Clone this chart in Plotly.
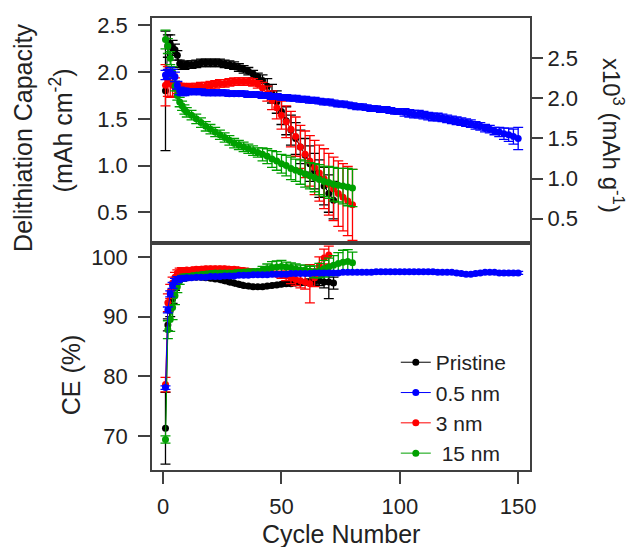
import plotly.graph_objects as go

# ---------------- data ----------------
# cycle numbers (every cycle up to 9, then every 2nd cycle)
pristine_cyc = list(range(1, 10)) + list(range(10, 73, 2))
nm05_cyc = list(range(1, 10)) + list(range(10, 151, 2))
nm3_cyc = list(range(1, 10)) + list(range(10, 81, 2))
nm3_ce_cyc = list(range(1, 10)) + list(range(10, 71, 2))
nm15_cyc = list(range(1, 10)) + list(range(10, 81, 2))

# delithiation capacity (mAh cm-2)
pristine_cap = [1.80, 2.28, 2.30, 2.26, 2.24, 2.18, 2.09, 2.07, 2.07,
                2.08, 2.08, 2.09, 2.10, 2.10, 2.10, 2.10, 2.10, 2.09, 2.08,
                2.07, 2.05, 2.03, 2.01, 1.98, 1.95, 1.91, 1.85, 1.77, 1.68,
                1.58, 1.48, 1.38, 1.29, 1.20, 1.11, 1.02, 0.94, 0.86, 0.78,
                0.70, 0.63]
pristine_cap_err = [0.64, 0.12, 0.10, 0.08, 0.06, 0.05, 0.04, 0.04, 0.04,
                    0.04, 0.04, 0.04, 0.04, 0.04, 0.04, 0.04, 0.04, 0.04, 0.04,
                    0.04, 0.04, 0.04, 0.04, 0.04, 0.04, 0.06, 0.08, 0.10, 0.12,
                    0.14, 0.15, 0.16, 0.17, 0.18, 0.18, 0.19, 0.19, 0.20, 0.20,
                    0.20, 0.20]

nm05_cap = [1.97, 1.98, 2.00, 1.98, 1.95, 1.86, 1.80, 1.79, 1.79,
            1.79, 1.79, 1.79, 1.79, 1.78, 1.78, 1.78, 1.78, 1.78, 1.77,
            1.77, 1.77, 1.77, 1.76, 1.76, 1.76, 1.75, 1.75, 1.74, 1.74,
            1.73, 1.73, 1.72, 1.72, 1.71, 1.71, 1.70, 1.70, 1.69, 1.68,
            1.68, 1.67, 1.66, 1.66, 1.65, 1.64, 1.63, 1.63, 1.62, 1.61,
            1.61, 1.60, 1.60, 1.59, 1.58, 1.58, 1.57, 1.56, 1.55, 1.55,
            1.54, 1.53, 1.52, 1.52, 1.51, 1.50, 1.49, 1.48, 1.47, 1.46,
            1.45, 1.43, 1.42, 1.40, 1.39, 1.37, 1.36, 1.34, 1.33, 1.31,
            1.29]
nm05_cap_err = [0.05, 0.05, 0.05, 0.05, 0.05, 0.04, 0.04, 0.04, 0.04] + \
    [0.03] * 46 + [0.04] * 20 + [0.05, 0.06, 0.07, 0.08, 0.12]

nm3_cap = [1.86, 1.90, 1.88, 1.86, 1.84, 1.83, 1.83, 1.83, 1.83,
           1.83, 1.84, 1.84, 1.85, 1.85, 1.86, 1.87, 1.88, 1.88, 1.89,
           1.90, 1.90, 1.90, 1.90, 1.89, 1.87, 1.83, 1.77, 1.70, 1.62,
           1.54, 1.47, 1.39, 1.31, 1.20, 1.12, 1.05, 0.98, 0.92, 0.86,
           0.80, 0.75, 0.70, 0.66, 0.62, 0.58]
nm3_cap_err = [0.22, 0.16, 0.15, 0.12, 0.10, 0.06, 0.05, 0.05, 0.04] + \
    [0.04] * 16 + [0.06, 0.08, 0.10, 0.12, 0.15, 0.17, 0.19, 0.21, 0.23, 0.25,
                   0.27, 0.29, 0.30, 0.32, 0.33, 0.34, 0.35, 0.36, 0.37, 0.38]

nm15_cap = [2.35, 2.28, 2.15, 2.00, 1.85, 1.75, 1.68, 1.64, 1.60,
            1.57, 1.54, 1.50, 1.46, 1.42, 1.39, 1.36, 1.33, 1.30, 1.27,
            1.24, 1.22, 1.20, 1.18, 1.16, 1.14, 1.12, 1.10, 1.07, 1.05,
            1.02, 1.00, 0.97, 0.95, 0.93, 0.91, 0.89, 0.87, 0.85, 0.83,
            0.82, 0.80, 0.79, 0.78, 0.77, 0.76]
nm15_cap_err = [0.10, 0.08, 0.07, 0.06, 0.05, 0.05, 0.05, 0.05, 0.05] + \
    [0.05] * 16 + [0.07, 0.08, 0.09, 0.10, 0.10, 0.11, 0.12, 0.12, 0.13, 0.14,
                   0.14, 0.15, 0.16, 0.16, 0.17, 0.18, 0.18, 0.19, 0.20, 0.20]

# coulombic efficiency (%)
pristine_ce = [71.3, 88.6, 91.0, 93.0, 95.0, 96.0, 96.3, 96.4, 96.5,
               96.5, 96.6, 96.6, 96.6, 96.5, 96.4, 96.3, 96.2, 96.0, 95.8,
               95.6, 95.4, 95.2, 95.1, 95.0, 95.0, 95.0, 95.1, 95.2, 95.3,
               95.4, 95.5, 95.5, 95.6, 95.6, 95.7, 95.8, 95.9, 96.0, 95.8,
               95.8, 95.6]
pristine_ce_err = [6.0, 1.0, 1.0, 0.8, 0.6, 0.3, 0.3, 0.3, 0.3] + \
    [0.3] * 26 + [0.5, 0.6, 0.8, 1.0, 2.8, 1.0]

nm05_ce = [78.1, 91.1, 93.8, 95.2, 95.9, 96.2, 96.3, 96.4, 96.4,
           96.5, 96.5, 96.6, 96.6, 96.6, 96.7, 96.7, 96.7, 96.8, 96.8,
           96.8, 96.9, 96.9, 96.9, 97.0, 97.0, 97.0, 97.0, 97.1, 97.1,
           97.1, 97.1, 97.2, 97.2, 97.2, 97.2, 97.2, 97.3, 97.3, 97.3,
           97.3, 97.3, 97.3, 97.4, 97.4, 97.4, 97.4, 97.4, 97.4, 97.4,
           97.5, 97.5, 97.5, 97.5, 97.5, 97.5, 97.5, 97.5, 97.5, 97.5,
           97.5, 97.5, 97.5, 97.4, 97.4, 97.4, 97.4, 97.3, 97.2, 97.1,
           97.1, 97.2, 97.3, 97.4, 97.4, 97.4, 97.3, 97.3, 97.3, 97.3,
           97.3]
nm05_ce_err = [0.3, 0.5, 0.5, 0.5, 0.5, 0.5, 0.4, 0.4, 0.4] + [0.25] * 71

nm3_ce = [78.6, 92.3, 94.2, 95.6, 96.6, 97.3, 97.6, 97.7, 97.7,
          97.8, 97.8, 97.9, 97.9, 98.0, 98.0, 98.0, 98.0, 98.0, 97.9,
          97.9, 97.8, 97.7, 97.6, 97.5, 97.4, 97.3, 97.2, 97.2, 97.1,
          97.0, 96.8, 96.5, 96.2, 96.0, 95.8, 95.5, 96.5, 98.5, 99.8,
          100.3]
nm3_ce_err = [1.2, 1.5, 1.2, 1.0, 0.8, 0.5, 0.5, 0.5, 0.5] + [0.4] * 20 + \
    [0.6, 0.8, 1.0, 1.0, 1.2, 1.2, 3.2, 1.5, 1.5, 1.5, 1.5]

nm15_ce = [69.4, 87.8, 89.5, 91.5, 93.5, 95.0, 96.0, 96.4, 96.6,
           96.7, 96.8, 96.9, 97.0, 97.1, 97.2, 97.3, 97.3, 97.3, 97.3,
           97.3, 97.4, 97.4, 97.5, 97.5, 97.6, 97.8, 98.0, 98.2, 98.3,
           98.4, 98.3, 98.2, 98.0, 97.8, 97.8, 97.6, 97.5, 97.7, 98.0,
           98.3, 98.6, 98.9, 99.1, 99.2, 99.0]
nm15_ce_err = [0.6, 1.5, 2.0, 2.0, 1.5, 1.0, 0.6, 0.5, 0.5] + [0.4] * 16 + \
    [0.6, 0.8, 1.0, 1.0, 1.0, 0.8, 0.8, 0.8, 0.8, 0.8,
     0.8, 1.0, 1.2, 1.4, 1.5, 1.6, 1.8, 2.0, 2.0, 1.8]

# specific capacity axis scale (x10^3 mAh g-1 per mAh cm-2)
spec_factor = 1.1615

FONT = "Liberation Sans, Arial, sans-serif"
AXCOL = "#404040"

fig = go.Figure()

series = [
    # name, colour, rank, cycles, cap, cap err, ce cycles, ce, ce err
    ("Pristine", "#000000", 1, pristine_cyc, pristine_cap, pristine_cap_err,
     pristine_cyc, pristine_ce, pristine_ce_err),
    ("3 nm", "#FF0000", 3, nm3_cyc, nm3_cap, nm3_cap_err,
     nm3_ce_cyc, nm3_ce, nm3_ce_err),
    (" 15 nm", "#00A000", 4, nm15_cyc, nm15_cap, nm15_cap_err,
     nm15_cyc, nm15_ce, nm15_ce_err),
    ("0.5 nm", "#0000FF", 2, nm05_cyc, nm05_cap, nm05_cap_err,
     nm05_cyc, nm05_ce, nm05_ce_err),
]

for name, col, rank, cyc, cap, cap_err, ce_cyc, ce, ce_err in series:
    fig.add_trace(go.Scatter(
        x=cyc, y=cap, xaxis="x2", yaxis="y2", name=name, legendrank=rank,
        mode="lines+markers", line=dict(color=col, width=1),
        marker=dict(color=col, size=7),
        error_y=dict(type="data", array=cap_err, color=col, thickness=1.3, width=5)))
    fig.add_trace(go.Scatter(
        x=ce_cyc, y=ce, xaxis="x", yaxis="y", name=name, showlegend=False,
        mode="lines+markers", line=dict(color=col, width=1),
        marker=dict(color=col, size=7),
        error_y=dict(type="data", array=ce_err, color=col, thickness=1.3, width=5)))

# empty trace so the right-hand axis gets drawn
fig.add_trace(go.Scatter(x=[], y=[], xaxis="x2", yaxis="y3", showlegend=False))

top_range = [0.17, 2.58]
x_range = [-4.7, 155]

axis_common = dict(showline=True, linecolor=AXCOL, linewidth=1.5, mirror=True,
                   showgrid=False, zeroline=False, ticks="outside", ticklen=12,
                   tickwidth=1.5, tickcolor=AXCOL,
                   tickfont=dict(family=FONT, size=22, color="#222222"))

fig.update_layout(
    width=637, height=547,
    margin=dict(l=152, r=107, t=18, b=77),
    paper_bgcolor="white", plot_bgcolor="white",
    font=dict(family=FONT, color="#222222"),
    xaxis=dict(axis_common, range=x_range, domain=[0, 1], anchor="y",
               tickvals=[0, 50, 100, 150], ticklabelstandoff=4),
    xaxis2=dict(axis_common, range=x_range, domain=[0, 1], anchor="y2",
                matches="x", showticklabels=False, ticks=""),
    yaxis=dict(axis_common, range=[64.3, 102.3], domain=[0, 0.502], anchor="x",
               tickvals=[70, 80, 90, 100], ticklabelstandoff=6),
    yaxis2=dict(axis_common, range=top_range, domain=[0.502, 1], anchor="x2",
                tickvals=[0.5, 1.0, 1.5, 2.0, 2.5], tickformat=".1f",
                ticklabelstandoff=6),
    yaxis3=dict(axis_common, overlaying="y2", side="right", anchor="x2",
                mirror=False, showline=False,
                range=[v * spec_factor for v in top_range],
                tickvals=[0.5, 1.0, 1.5, 2.0, 2.5], tickformat=".1f"),
    showlegend=True,
    legend=dict(x=0.645, y=0.283, xanchor="left", yanchor="top",
                bgcolor="rgba(0,0,0,0)", font=dict(family=FONT, size=21, color="#222222"),
                tracegroupgap=0),
)

title_font = dict(family=FONT, size=25, color="#222222")
ann = [
    dict(text="Delithiation Capacity", x=-0.341, y=0.735, textangle=-90),
    dict(text="(mAh cm<sup>-2</sup>)", x=-0.24, y=0.752, textangle=-90),
    dict(text="x10<sup>3</sup> (mAh g<sup>-1</sup>)", x=1.22, y=0.741, textangle=90,
         font=dict(family=FONT, size=24, color="#222222")),
    dict(text="CE (%)", x=-0.214, y=0.210, textangle=-90),
    dict(text="Cycle Number", x=0.5, y=-0.142, textangle=0),
]
for a in ann:
    a.setdefault("font", title_font)
    fig.add_annotation(xref="paper", yref="paper", showarrow=False,
                       xanchor="center", yanchor="middle", **a)

# the page body has a default 8px margin; drop it so the figure sits at 0,0
fig.write_html("out.html", config={"displayModeBar": False},
               post_script="document.body.style.margin='0px';")
